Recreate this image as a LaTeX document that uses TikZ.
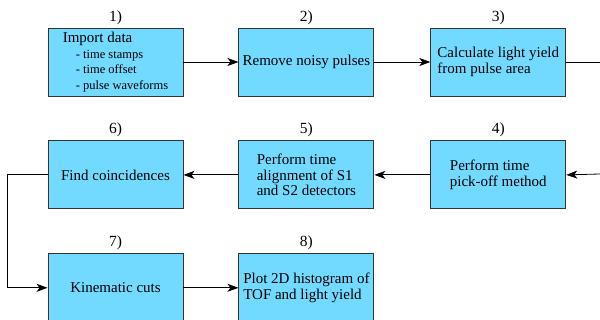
\documentclass[tikz,border=0pt]{standalone}
\usepackage{fontspec}
\setmainfont{Liberation Serif}
\usetikzlibrary{arrows.meta,positioning}
\definecolor{stagefill}{RGB}{115,218,255}
\newcommand{\itemfont}{\fontsize{12.5}{14.5}\selectfont}

\begin{document}
\begin{tikzpicture}[
  x=1pt, y=1pt,
  font=\fontsize{15}{15.5}\selectfont,
  stage/.style={rectangle, draw=black!80, line width=0.9pt, fill=stagefill,
                align=left, inner sep=2pt, minimum width=135pt, minimum height=68pt},
  num/.style={inner sep=0pt, font=\fontsize{15.5}{16}\selectfont},
  a/.style={-{Stealth[length=11pt,width=8pt,inset=3pt]}, line width=0.8pt},
  ln/.style={line width=0.8pt}
]
\useasboundingbox (0,0) rectangle (600,-320);

% ---------------- top row ----------------
\node[stage] (b1) at (115.5,-62)
  {Import data\\
   \hspace*{13pt}{\itemfont - time stamps}\\
   \hspace*{13pt}{\itemfont - time offset}\\
   \hspace*{13pt}{\itemfont - pulse waveforms}};
\node[stage, right=55pt of b1] (b2) {Remove noisy pulses};
\node[stage, right=56pt of b2] (b3) {Calculate light yield\\ from pulse area};

% ---------------- middle row (right to left) ----------------
\node[stage, below=44pt of b1] (b6) {Find coincidences};
\node[stage, below=44pt of b2] (b5) {Perform time\\ alignment of S1\\ and S2 detectors};
\node[stage, below=44pt of b3] (b4) {Perform time\\ pick-off method};

% ---------------- bottom row ----------------
\node[stage, below=44pt of b6] (b7) {Kinematic cuts};
\node[stage, below=44pt of b5] (b8) {Plot 2D histogram of\\ TOF and light yield};

% ---------------- step numbers ----------------
\node[num, above=3pt of b1] (n1) {1)};
\node[num, above=3pt of b2] (n2) {2)};
\node[num, above=3pt of b3] (n3) {3)};
\node[num, above=3pt of b4] (n4) {4)};
\node[num, above=3pt of b5] (n5) {5)};
\node[num, above=3pt of b6] (n6) {6)};
\node[num, above=3pt of b7] (n7) {7)};
\node[num, above=3pt of b8] (n8) {8)};

% ---------------- arrows ----------------
\coordinate (out3) at (600,-62);
\coordinate (in4) at (600,-174);
\draw[a] (b1) -- (b2);
\draw[a] (b2) -- (b3);
\draw[ln] (b3.east) -- (out3);
\draw[a] (in4) -- (b4.east);
\draw[a] (b4) -- (b5);
\draw[a] (b5) -- (b6);
\draw[a] (b6.west) -- ++(-40,0) |- (b7.west);
\draw[a] (b7) -- (b8);
\end{tikzpicture}
\end{document}
